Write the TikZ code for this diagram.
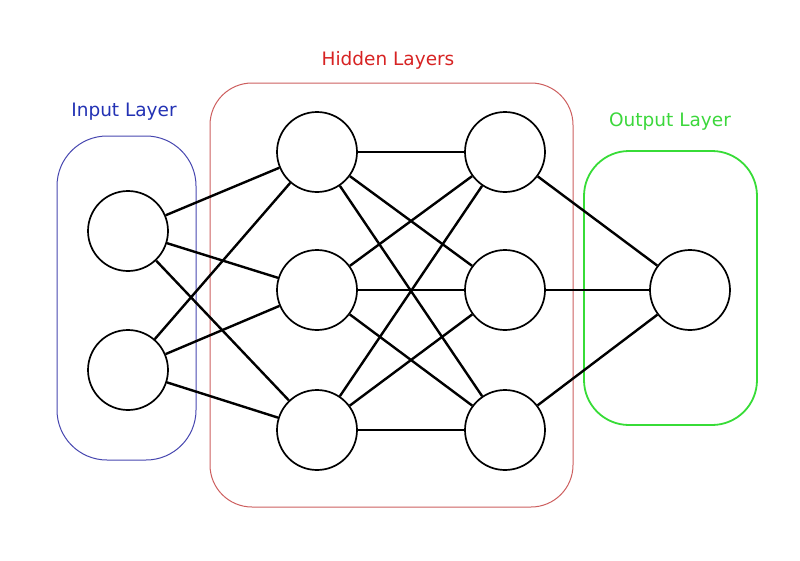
\documentclass[tikz,border=0pt]{standalone}
\usepackage{fontspec}
\setmainfont{DejaVu Sans}
\begin{document}
\begin{tikzpicture}[x=1pt,y=-1pt,
  neuron/.style={circle,draw=black,line width=1.7pt,minimum size=80pt,inner sep=0pt},
  link/.style={line width=2.4pt,black},
  lbl/.style={font=\fontsize{18.5}{20}\selectfont,inner sep=0pt,anchor=center}]
\definecolor{inblue}{RGB}{70,70,175}
\definecolor{intext}{RGB}{35,50,180}
\definecolor{hidred}{RGB}{205,95,95}
\definecolor{hidtext}{RGB}{215,35,35}
\definecolor{outgreen}{RGB}{55,220,55}
\definecolor{outtext}{RGB}{60,215,60}
\useasboundingbox (0,0) rectangle (800,560);
% layer outlines
\draw[inblue,line width=1pt,rounded corners=50pt] (57,136) rectangle (196,460);
\draw[hidred,line width=1pt,rounded corners=42pt] (210,83) rectangle (573,507);
\draw[outgreen,line width=1.8pt,rounded corners=45pt] (584,151) rectangle (757,425);
% labels
\node[lbl,text=intext] (tin) at (124,112) {Input Layer};
\node[lbl,text=hidtext] (thid) at (388,60) {Hidden Layers};
\node[lbl,text=outtext] (tout) at (670,122) {Output Layer};
% neurons
\node[neuron] (i1) at (128,231) {};
\node[neuron] (i2) at (128,370) {};
\node[neuron] (a1) at (317,152) {};
\node[neuron] (a2) at (317,290) {};
\node[neuron] (a3) at (317,430) {};
\node[neuron] (b1) at (505,152) {};
\node[neuron] (b2) at (505,290) {};
\node[neuron] (b3) at (505,430) {};
\node[neuron] (o1) at (690,290) {};
% connections
\foreach \s in {i1,i2}{\foreach \t in {a1,a2,a3}{\draw[link] (\s) -- (\t);}}
\foreach \s in {a1,a2,a3}{\foreach \t in {b1,b2,b3}{\draw[link] (\s) -- (\t);}}
\foreach \s in {b1,b2,b3}{\draw[link] (\s) -- (o1);}
\end{tikzpicture}
\end{document}
